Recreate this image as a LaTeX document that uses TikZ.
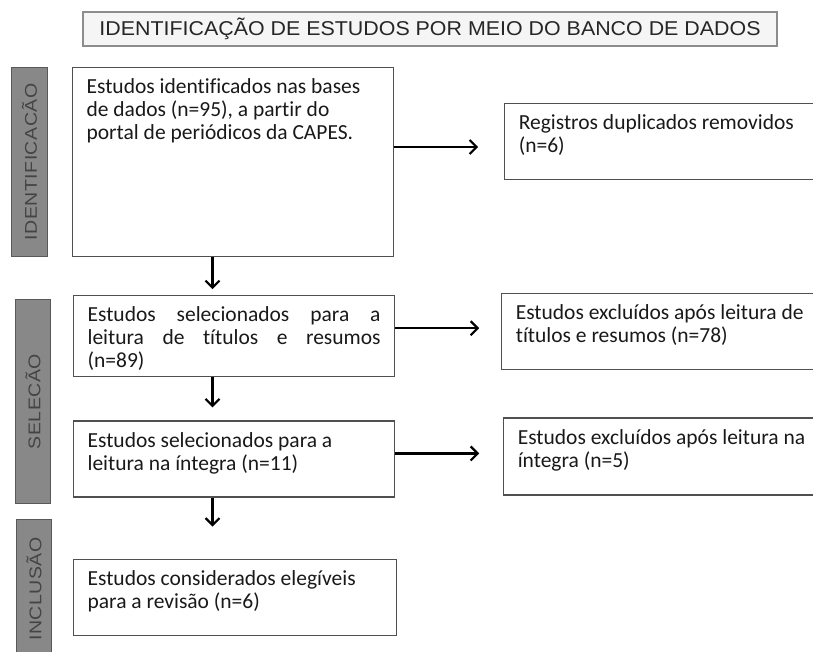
\documentclass[tikz,border=0pt]{standalone}
\usepackage{fontspec}
\usepackage{graphicx}
\setmainfont[Ligatures=NoCommon]{Carlito}
\newfontfamily\titlefont[FakeStretch=1.07]{Liberation Sans}
\newfontfamily\barfont[FakeStretch=1.15,LetterSpace=3]{Liberation Sans}
\usepackage{tikz}
\usetikzlibrary{positioning,arrows.meta}
\definecolor{boxline}{HTML}{505050}
\definecolor{barfill}{HTML}{888888}
\definecolor{bartext}{HTML}{444444}
\definecolor{titlefill}{HTML}{F5F5F5}
\tikzstyle{titlebox} = [rectangle, draw=black!45, line width=1.2pt, fill=titlefill, minimum width=694pt, minimum height=34pt, inner sep=0pt, text=black!85, font=\titlefont\fontsize{20}{22}\selectfont]
\tikzstyle{box} = [rectangle, draw=boxline, line width=1.2pt, inner sep=0pt, anchor=north west, text=black!90]
\tikzstyle{bar} = [rectangle, draw=black!65, line width=1pt, fill=barfill, inner sep=0pt, text=bartext, font=\barfont\fontsize{17}{18}\selectfont]
\tikzstyle{arrow} = [line width=2.2pt, -{Straight Barb[length=7pt,width=14pt,line width=2.2pt]}]
% top aligned text inside a box: height, width, text
\newcommand{\boxtext}[3]{\parbox[t][#1][t]{#2}{\raggedright\leftskip=14pt\rule{0pt}{26pt}#3}}
\newcommand{\justline}[1]{\makebox[293pt][s]{#1}}

\begin{document}
\begin{tikzpicture}[x=1pt, y=1pt, font=\fontsize{21.5}{23}\selectfont]
	\useasboundingbox (0,0) rectangle (813,-651);
	\clip (0,0) rectangle (813,-651);

	\node (title) [titlebox] at (430,-29) {IDENTIFICAÇÃO DE ESTUDOS POR MEIO DO BANCO DE DADOS};

	% left column
	\node (b1) [box] at (72,-67) {\boxtext{189pt}{321pt}{Estudos identificados nas bases\\de dados (n=95), a partir do\\portal de periódicos da CAPES.}};
	\node (b3) [box, below=38pt of b1.south west, anchor=north west, xshift=1pt] {\boxtext{81pt}{321pt}{\justline{Estudos selecionados para a}\\\justline{leitura de títulos e resumos}\\(n=89)}};
	\node (b5) [box, below=43pt of b3.south west, anchor=north west] {\boxtext{76pt}{321pt}{Estudos selecionados para a\\leitura na íntegra (n=11)}};
	\node (b7) [box, below=61pt of b5.south west, anchor=north west] {\boxtext{76pt}{323pt}{Estudos considerados elegíveis\\para a revisão (n=6)}};

	% right column
	\node (b2) [box, right=110pt of b1.north east, anchor=north west, yshift=-36pt] {\boxtext{76pt}{330pt}{Registros duplicados removidos\\(n=6)}};
	\node (b4) [box, right=106pt of b3.north east, anchor=north west, yshift=2pt] {\boxtext{76pt}{330pt}{Estudos excluídos após leitura de\\títulos e resumos (n=78)}};
	\node (b6) [box, right=108pt of b5.north east, anchor=north west, yshift=3pt] {\boxtext{77pt}{330pt}{Estudos excluídos após leitura na\\íntegra (n=5)}};

	% phase bars
	\node (ident) [bar, minimum width=36pt, minimum height=189pt, left=24pt of b1.north west, anchor=north east] {\rotatebox{90}{IDENTIFICACÃO}};
	\node (selec) [bar, minimum width=35pt, minimum height=204pt, left=22pt of b3.north west, anchor=north east, yshift=-4pt] {\rotatebox{90}{SELECÃO}};
	\node (inclu) [bar, minimum width=35pt, minimum height=140pt, left=21pt of b7.north west, anchor=north east, yshift=40pt] {\rotatebox{90}{INCLUSÃO}};

	\coordinate (downx) at (212.5,0);
	\coordinate (a1) at ([yshift=-80pt]b1.north east);
	\coordinate (a3) at ([yshift=-33pt]b3.north east);
	\coordinate (a5) at ([yshift=-33pt]b5.north east);

	\draw [arrow, shorten >=26pt] (a1) -- (a1 -| b2.west);
	\draw [arrow, shorten >=22pt] (a3) -- (a3 -| b4.west);
	\draw [arrow, shorten >=24pt] (a5) -- (a5 -| b6.west);
	\draw [arrow, shorten >=6pt] (b1.south -| downx) -- (b3.north -| downx);
	\draw [arrow, shorten >=13pt] (b3.south -| downx) -- (b5.north -| downx);
	\draw [arrow, shorten >=32pt] (b5.south -| downx) -- (b7.north -| downx);
\end{tikzpicture}
\end{document}
